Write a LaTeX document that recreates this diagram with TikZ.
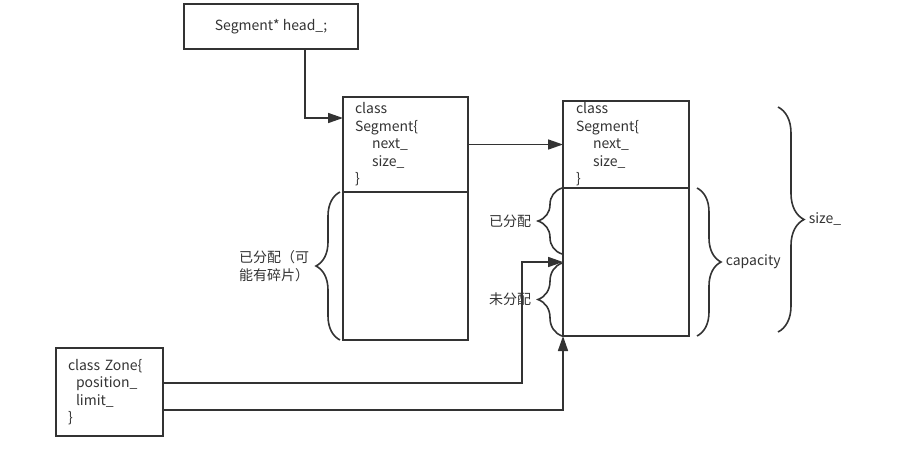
\documentclass[tikz,border=0pt]{standalone}
\usepackage{fontspec}
\setmainfont{Noto Sans CJK SC}
\usetikzlibrary{arrows.meta,decorations.pathreplacing,positioning}
\definecolor{ink}{HTML}{333333}

\tikzset{
  box/.style={draw=ink,line width=1.6pt,inner sep=0pt,outer sep=0pt},
  code/.style={text=ink,align=left,font=\fontsize{14}{17.5}\selectfont},
  lbl/.style={text=ink,font=\fontsize{14}{17.5}\selectfont,inner sep=0pt},
  arr/.style={draw=ink,line width=1.6pt,-{Triangle[length=15pt,width=10pt]}},
  brc/.style={draw=ink,line width=1.6pt,decorate,decoration={brace,amplitude=24pt}},
}

\begin{document}
\begin{tikzpicture}[x=1pt,y=-1pt]
\useasboundingbox (0,0) rectangle (906,448);
%\draw[step=50,gray,very thin] (0,0) grid (906,448);

% head pointer
\node[box,code,minimum width=174,minimum height=45] (head) at (271,26.5) {Segment* head\_;};

% first segment
\node[box,code,minimum width=125,minimum height=95,text width=101,inner xsep=12] (seg1h) at (405.5,144.5)
  {class\\Segment\{\\\hspace*{17pt}next\_\\\hspace*{17pt}size\_\\\}};
\node[box,minimum width=125,minimum height=148,below=0pt of seg1h] (seg1b) {};

% second segment
\node[box,code,minimum width=126,minimum height=87,text width=100,inner xsep=13] (seg2h) at (626,144.5)
  {class\\Segment\{\\\hspace*{17pt}next\_\\\hspace*{17pt}size\_\\\}};
\node[box,minimum width=126,minimum height=148,below=0pt of seg2h] (seg2b) {};

% zone
\node[box,code,minimum width=107,minimum height=88,text width=83,inner xsep=12] (zone) at (109.5,392)
  {class Zone\{\\\hspace*{8pt}position\_\\\hspace*{8pt}limit\_\\\}};

% arrows
\draw[arr] ([xshift=34pt]head.south) |- ([yshift=26.5pt]seg1h.west);
\draw[arr] (seg1h.east) -- (seg2h.west);
\draw[arr] ([yshift=9pt]zone.east) -| ([xshift=-41pt]seg2b.west) -- (seg2b.west);
\draw[arr] ([yshift=-18pt]zone.east) -| (seg2b.south west);

% braces
\draw[brc] ([xshift=-3pt]seg1b.south west) -- node[lbl,left=30pt,align=left] {已分配（可\\能有碎片）} ([xshift=-3pt]seg1b.north west);
\draw[brc] ([xshift=-1pt,yshift=-66pt]seg2b.north west) -- node[lbl,left=30pt] {已分配} ([xshift=-1pt]seg2b.north west);
\draw[brc] ([xshift=-1pt]seg2b.south west) -- node[lbl,left=30pt] {未分配} ([xshift=-1pt,yshift=73pt]seg2b.south west);
\draw[brc] ([xshift=8pt]seg2b.north east) -- node[lbl,right=28pt] {capacity} ([xshift=8pt]seg2b.south east);
\draw[brc,decoration={amplitude=26pt}] ([xshift=89pt,yshift=-6pt]seg2h.north east) -- node[lbl,right=30pt] {size\_} ([xshift=89pt,yshift=4pt]seg2b.south east);
\end{tikzpicture}
\end{document}
